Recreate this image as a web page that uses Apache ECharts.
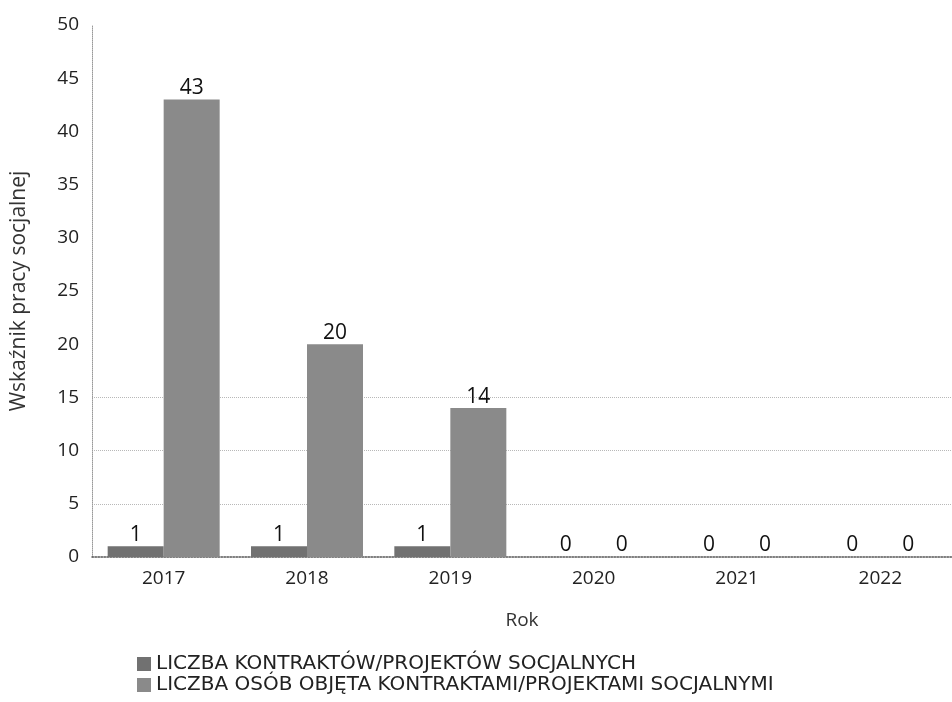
<!DOCTYPE html>
<html><head><meta charset="utf-8">
<script src="https://cdn.jsdelivr.net/npm/echarts@6/dist/echarts.min.js"></script>
<style>html,body{margin:0;padding:0;background:#fff}#c{width:952px;height:702px}</style>
</head><body><div id="c"></div>
<script>
const categories = ['2017','2018','2019','2020','2021','2022'];
const seriesNames = ['LICZBA KONTRAKTÓW/PROJEKTÓW SOCJALNYCH','LICZBA OSÓB OBJĘTA KONTRAKTAMI/PROJEKTAMI SOCJALNYMI'];
const kontrakty = [1,1,1,0,0,0];
const osoby = [43,20,14,0,0,0];
const yTicks = [0,5,10,15,20,25,30,35,40,45,50];

const chart = echarts.init(document.getElementById('c'));
const labelFont = 'Open Sans';
const gridColors = yTicks.map(v => (v>=5 && v<=15) ? '#b8b8b8' : 'rgba(0,0,0,0)');
chart.setOption({
  animation:false,
  textStyle:{fontFamily:labelFont},
  grid:{left:92,top:25,width:864,height:532},
  legend:{
    orient:'vertical', left:132, top:649, itemWidth:14, itemHeight:14, itemGap:1,
    icon:'rect',
    textStyle:{fontFamily:'DejaVu Sans',fontSize:20,color:'#222'},
    data:seriesNames
  },
  xAxis:{
    type:'category', data:categories,
    name:'Rok', nameLocation:'middle', nameGap:54,
    nameTextStyle:{fontSize:19,color:'#333',fontFamily:labelFont},
    axisLine:{show:true,lineStyle:{color:'#555',type:'dotted',width:1.5}},
    axisTick:{show:false},
    axisLabel:{fontSize:19,color:'#222',margin:12}
  },
  yAxis:{
    type:'value', min:0, max:50, interval:5,
    name:'Wskaźnik pracy socjalnej', nameLocation:'middle', nameGap:62,
    nameTextStyle:{fontSize:21,color:'#333',fontFamily:labelFont},
    axisLine:{show:true,lineStyle:{color:'#999',type:'dotted'}},
    axisTick:{show:false},
    axisLabel:{fontSize:19,color:'#222',margin:13},
    splitLine:{show:true,lineStyle:{color:gridColors,type:'dotted',width:1}}
  },
  series:[
    {name:seriesNames[0],type:'bar',data:kontrakty,barWidth:56,barGap:'0%',
     itemStyle:{color:'#717171'},
     label:{show:true,position:'top',fontSize:21,color:'#111',distance:1}},
    {name:seriesNames[1],type:'bar',data:osoby,barWidth:56,barGap:'0%',
     itemStyle:{color:'#8a8a8a'},
     label:{show:true,position:'top',fontSize:21,color:'#111',distance:1}}
  ]
});
</script></body></html>
